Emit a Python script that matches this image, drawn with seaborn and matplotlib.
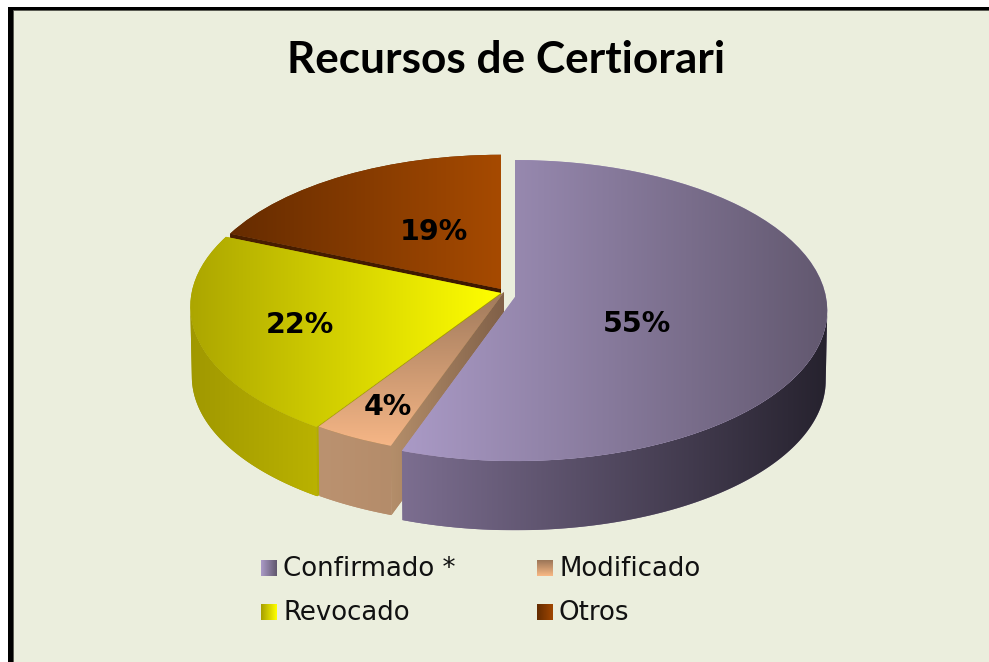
import numpy as np
import matplotlib
matplotlib.use('Agg')
import matplotlib.pyplot as plt
import seaborn as sns
from matplotlib.patches import Rectangle, Polygon
from matplotlib.transforms import Transform

title = 'Recursos de Certiorari'
categories = ['Confirmado *', 'Modificado', 'Revocado', 'Otros']
values = [55.4, 3.9, 22.1, 18.6]
value_labels = ['55%', '4%', '22%', '19%']

sns.set_theme(style='white')

BG = '#ebeedd'
PERSP = 0.09
WALL = 70

# apex of each slice in pixels (pulled apart a little)
apex = [(515, 297), (504, 292), (501, 293), (501, 289)]
disc_scale = [1.0, 1.0, 0.995, 0.98]
top_cols = [['#aa9ac6', '#62586f'], ['#a07a5c', '#f6b686'], ['#aca600', '#ffff00'], ['#662c00', '#a64a00']]
wall_cols = [['#7c6e90', '#26222e'], ['#bb9270', '#b48c6a'], ['#a09800', '#bab200'], ['#4a1f00', '#4a1f00']]
side_cols = [['#7c6e90', '#7c6e90'], ['#b48e6a', '#806048'], ['#b4ac00', '#a49c00'], ['#4a1f00', '#3c1800']]
top_dir = ['h', 'v', 'h', 'h']
label_pos = [(637, 324), (388, 407), (300, 325), (434, 232)]


class Tilt(Transform):
    # unit circle of the pie -> tilted disc in pixels
    input_dims = 2
    output_dims = 2

    def __init__(self, cx, cy, scale=1.0):
        super().__init__()
        self.cx, self.cy, self.scale = cx, cy, scale

    def transform_non_affine(self, values):
        x, y = values[:, 0], values[:, 1]
        d = 1 + PERSP * y
        return np.column_stack([self.cx + 311 * self.scale * x / d, self.cy - 149.3 * self.scale * y / d])


fig = plt.figure(figsize=(9.89, 6.62), dpi=100, facecolor='white')
ax = fig.add_axes([0, 0, 1, 1])
wedges, _ = ax.pie(values, startangle=90, counterclock=False, radius=1)
ax.set_aspect('auto')
ax.set_xlim(0, 989)
ax.set_ylim(662, 0)
ax.axis('off')

ax.add_patch(Rectangle((8, 7), 990, 670, fc='black', ec='none', zorder=0))
ax.add_patch(Rectangle((13, 9.5), 990, 670, fc=BG, ec='#55564e', lw=0.6, zorder=0.5))


def gradient(patch, cols, direction, z):
    # paints a colour ramp over the bounding box of the patch, clipped to it
    patch.set_zorder(z)
    box = patch.get_window_extent()
    inv = ax.transData.inverted()
    (x0, y0), (x1, y1) = inv.transform([(box.x0, box.y0), (box.x1, box.y1)])
    ramp = np.linspace(0, 1, 256)
    ramp = ramp[None, :] if direction == 'h' else ramp[:, None]
    cmap = sns.blend_palette(cols, as_cmap=True)
    im = ax.imshow(ramp, cmap=cmap, vmin=0, vmax=1, aspect='auto', extent=(x0, x1, max(y0, y1), min(y0, y1)),
                   zorder=z + 0.1, interpolation='bilinear')
    im.set_clip_path(patch)
    patch.set_facecolor(cols[0])
    patch.set_edgecolor('none')


def rim(cx, cy, angles, scale=1.0):
    a = np.radians(angles)
    return Tilt(cx, cy, scale).transform_non_affine(np.column_stack([np.cos(a), np.sin(a)]))


# back to front: otros, revocado, modificado, confirmado
for z, i in zip([2, 4, 6, 8], [3, 2, 1, 0]):
    w = wedges[i]
    cx, cy = apex[i]
    s = disc_scale[i]
    w.set_transform(Tilt(cx, cy, s) + ax.transData)

    # cut face of the slice
    if i != 0:
        p_top = rim(cx, cy, [w.theta2], s)[0]
        p_bot = rim(cx, cy + WALL, [w.theta2], s * 0.995)[0]
        side = Polygon([(cx, cy), p_top, p_bot, (cx, cy + WALL)], closed=True, transform=ax.transData)
        ax.add_patch(side)
        gradient(side, side_cols[i], 'h', z - 1)

    # outer wall, only the part that faces the viewer (up to the widest point of the disc)
    ang = np.linspace(w.theta1, w.theta2, 200)
    ang = ang[np.sin(np.radians(ang)) <= -PERSP]
    if len(ang) > 1 and i != 3:
        upper = rim(cx, cy, ang, s)
        lower = rim(cx, cy + WALL, ang, s * 0.995)
        wall = Polygon(np.vstack([upper, lower[::-1]]), closed=True, transform=ax.transData)
        ax.add_patch(wall)
        gradient(wall, wall_cols[i], 'h', z - 0.5)

    gradient(w, top_cols[i], top_dir[i], z)

for lab, (x, y) in zip(value_labels, label_pos):
    ax.text(x, y, lab, ha='center', va='center', fontsize=20.5, fontweight='bold', family='DejaVu Sans',
            color='black', zorder=20)

ax.text(506, 60, title, ha='center', va='center', fontsize=31.8, fontweight='bold', family='Lato', color='black', zorder=20)

# legend with gradient swatches
leg_pos = [(261, 560), (537, 560), (261, 604), (537, 604)]
leg_cols = [top_cols[0], ['#9c7658', '#f8b884'], ['#a8a000', '#ffff00'], ['#642c00', '#a04600']]
leg_dir = ['h', 'v', 'h', 'h']
for name, (x, y), cols, d in zip(categories, leg_pos, leg_cols, leg_dir):
    ramp = np.linspace(0, 1, 32)
    ramp = ramp[None, :] if d == 'h' else ramp[:, None]
    ax.imshow(ramp, cmap=sns.blend_palette(cols, as_cmap=True), aspect='auto', extent=(x, x + 16, y + 16, y), zorder=20)
    ax.text(x + 22, y + 9, name, ha='left', va='center', fontsize=18.7, family='DejaVu Sans', color='#111111', zorder=20)

ax.set_xlim(0, 989)
ax.set_ylim(662, 0)
fig.savefig('out.png', dpi=100, facecolor='white')
